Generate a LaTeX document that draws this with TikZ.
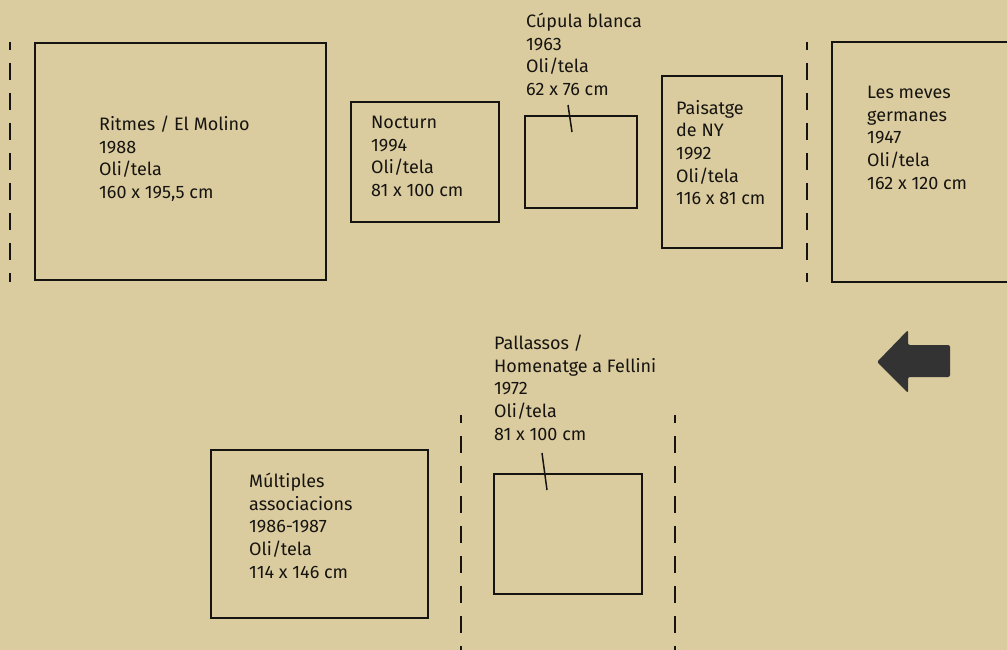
\documentclass[tikz,border=0pt]{standalone}
\usepackage{fontspec}
\setmainfont{Fira Sans}
\usetikzlibrary{calc}
\definecolor{paper}{RGB}{219,204,159}
\definecolor{ink}{RGB}{22,20,16}
\definecolor{arrowgrey}{RGB}{51,51,51}
\tikzset{
  frame/.style={draw=ink, line width=2pt, inner sep=0pt},
  caption/.style={anchor=north west, inner sep=0pt, align=left, text=ink,
    font=\fontsize{18}{22.6}\selectfont, execute at begin node={\strut}},
  wall/.style={draw=ink, line width=2.8pt, dash pattern=on 17pt off 13pt, dash phase=9pt},
  tick/.style={draw=ink, line width=1.5pt},
}

\begin{document}
\begin{tikzpicture}[x=1pt, y=-1pt]
\useasboundingbox (0,0) rectangle (1007,650);
\clip (0,0) rectangle (1007,650);
\fill[paper] (0,0) rectangle (1007,650);
% walls
\draw[wall] (10,42) -- (10,282);
\draw[wall] (807,42) -- (807,282);
\draw[wall] (461,415) -- (461,650);
\draw[wall] (675,415) -- (675,650);
% frames
\node[frame, minimum width=291, minimum height=237] (ritmes) at (180.5,161.5) {};
\node[frame, minimum width=148, minimum height=120] (nocturn) at (425,162) {};
\node[frame, minimum width=112, minimum height=92] (cupula) at (581,162) {};
\node[frame, minimum width=120, minimum height=172] (paisatge) at (722,162) {};
\node[frame, minimum width=200, minimum height=240] (meves) at (932,162) {};
\node[frame, minimum width=217, minimum height=168] (multiples) at (319.5,534) {};
\node[frame, minimum width=148, minimum height=120] (pallassos) at (568,534) {};
% captions
\node[caption] (ritmesTxt) at (99,116) {Ritmes / El Molino\\1988\\Oli/tela\\160 x 195,5 cm};
\node[caption] (nocturnTxt) at (371,116) {Nocturn\\1994\\Oli/tela\\81 x 100 cm};
\node[caption] (cupulaTxt) at (526,13) {Cúpula blanca\\1963\\Oli/tela\\62 x 76 cm};
\node[caption] (paisatgeTxt) at (676,100) {Paisatge\\de NY\\1992\\Oli/tela\\116 x 81 cm};
\node[caption] (mevesTxt) at (867,86) {Les meves\\germanes\\1947\\Oli/tela\\162 x 120 cm};
\node[caption] (multiplesTxt) at (249,473) {Múltiples\\associacions\\1986-1987\\Oli/tela\\114 x 146 cm};
\node[caption] (pallassosTxt) at (494,335) {Pallassos /\\Homenatge a Fellini\\1972\\Oli/tela\\81 x 100 cm};
% leaders
\coordinate (cupulaA) at (568,105);
\coordinate (cupulaB) at (572,132);
\draw[tick] (cupulaA) -- (cupulaB);
\coordinate (pallassosA) at (542,453);
\coordinate (pallassosB) at (547,490);
\draw[tick] (pallassosA) -- (pallassosB);
% direction
\fill[arrowgrey, rounded corners=2pt] (877,362) -- (908,330) -- (908,345) -- (950,345)
  -- (950,377) -- (908,377) -- (908,393) -- cycle;
\end{tikzpicture}
\end{document}
